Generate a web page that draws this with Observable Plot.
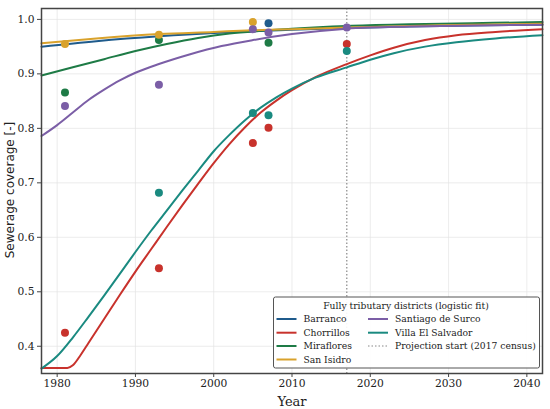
<!DOCTYPE html>
<html>
<head>
<meta charset="utf-8">
<script src="https://cdn.jsdelivr.net/npm/d3@7"></script>
<script src="https://cdn.jsdelivr.net/npm/@observablehq/plot@0.6"></script>
<style>
  html, body { margin: 0; padding: 0; background: #fff; }
  #chart { width: 550px; height: 409px; }
</style>
</head>
<body>
<div id="chart"></div>
<script>
// ---- Data ----
const seriesNames = ["Barranco", "Chorrillos", "Miraflores", "San Isidro", "Santiago de Surco", "Villa El Salvador"];
const seriesColors = ["#1f5b8c", "#c8322c", "#1e7b46", "#d9a22c", "#7b5ea6", "#1a8a80"];

// Logistic-fit curves
const barrancoFitYears = [1978, 1985, 1993, 2000, 2005, 2010, 2017, 2025, 2033, 2042];
const barrancoFit      = [0.950, 0.960, 0.969, 0.975, 0.978, 0.981, 0.984, 0.987, 0.989, 0.990];
const sanIsidroFitYears = [1978, 1985, 1993, 2000, 2005, 2010, 2017, 2025, 2033, 2042];
const sanIsidroFit      = [0.956, 0.965, 0.973, 0.977, 0.980, 0.982, 0.985, 0.988, 0.990, 0.992];
const mirafloresFitYears = [1978, 1982, 1986, 1990, 1994, 1998, 2002, 2006, 2010, 2017, 2025, 2033, 2042];
const mirafloresFit      = [0.897, 0.912, 0.927, 0.942, 0.955, 0.966, 0.974, 0.979, 0.983, 0.988, 0.991, 0.993, 0.995];
const surcoFitYears = [1978, 1980, 1982, 1984, 1986, 1988, 1990, 1993, 1997, 2001, 2005, 2010, 2017, 2025, 2033, 2042];
const surcoFit      = [0.786, 0.806, 0.829, 0.852, 0.871, 0.888, 0.902, 0.918, 0.936, 0.951, 0.962, 0.973, 0.983, 0.987, 0.989, 0.990];
const chorrillosFitYears = [1978, 1981.3, 1982, 1983, 1984, 1985, 1986, 1988, 1990, 1992, 1994, 1996, 1998, 2000, 2002, 2004, 2006, 2008, 2010, 2013, 2017, 2020, 2023, 2027, 2031, 2036, 2042];
const chorrillosFit      = [0.360, 0.360, 0.365, 0.384, 0.406, 0.428, 0.450, 0.494, 0.537, 0.578, 0.619, 0.659, 0.698, 0.736, 0.771, 0.802, 0.829, 0.851, 0.870, 0.894, 0.918, 0.934, 0.948, 0.962, 0.971, 0.977, 0.982];
const vesFitYears = [1978, 1980, 1982, 1984, 1986, 1988, 1990, 1992, 1994, 1996, 1998, 2000, 2002, 2004, 2006, 2008, 2010, 2013, 2017, 2020, 2023, 2027, 2031, 2036, 2042];
const vesFit      = [0.359, 0.382, 0.416, 0.454, 0.493, 0.533, 0.573, 0.612, 0.649, 0.686, 0.722, 0.758, 0.788, 0.815, 0.838, 0.857, 0.873, 0.893, 0.912, 0.926, 0.938, 0.950, 0.958, 0.965, 0.971];

// Observed census points
const barrancoObsYears = [2007];
const barrancoObs      = [0.993];
const chorrillosObsYears = [1981, 1993, 2005, 2007, 2017];
const chorrillosObs      = [0.425, 0.543, 0.773, 0.801, 0.955];
const mirafloresObsYears = [1981, 1993, 2007];
const mirafloresObs      = [0.866, 0.962, 0.957];
const sanIsidroObsYears = [1981, 1993, 2005];
const sanIsidroObs      = [0.955, 0.972, 0.995];
const surcoObsYears = [1981, 1993, 2005, 2007, 2017];
const surcoObs      = [0.841, 0.880, 0.982, 0.976, 0.985];
const vesObsYears = [1993, 2005, 2007, 2017];
const vesObs      = [0.682, 0.828, 0.824, 0.942];

const projectionYear = 2017;
const xTicks = [1980, 1990, 2000, 2010, 2020, 2030, 2040];
const yTicks = [0.4, 0.5, 0.6, 0.7, 0.8, 0.9, 1.0];

// ---- Build tables ----
const fitSets = [
  [barrancoFitYears, barrancoFit],
  [chorrillosFitYears, chorrillosFit],
  [mirafloresFitYears, mirafloresFit],
  [sanIsidroFitYears, sanIsidroFit],
  [surcoFitYears, surcoFit],
  [vesFitYears, vesFit]
];
const obsSets = [
  [barrancoObsYears, barrancoObs],
  [chorrillosObsYears, chorrillosObs],
  [mirafloresObsYears, mirafloresObs],
  [sanIsidroObsYears, sanIsidroObs],
  [surcoObsYears, surcoObs],
  [vesObsYears, vesObs]
];
const fitRows = [];
fitSets.forEach(([ys, vs], i) => ys.forEach((y, j) => fitRows.push({series: seriesNames[i], year: y, value: vs[j]})));
const obsRows = [];
obsSets.forEach(([ys, vs], i) => ys.forEach((y, j) => obsRows.push({series: seriesNames[i], year: y, value: vs[j]})));

const serif = "DejaVu Serif, serif";

const chart = Plot.plot({
  width: 550,
  height: 409,
  marginLeft: 41,
  marginRight: 8,
  marginTop: 8,
  marginBottom: 36,
  style: {fontFamily: serif, fontSize: "10.7px", color: "#222", background: "#fff"},
  x: {domain: [1978, 2042], ticks: xTicks, tickFormat: d => String(d), label: null, tickSize: 4, tickPadding: 3},
  y: {domain: [0.35, 1.02], ticks: yTicks, tickFormat: ".1f", label: null, tickSize: 4, tickPadding: 3},
  color: {domain: seriesNames, range: seriesColors},
  marks: [
    Plot.gridX(xTicks, {stroke: "#e4e4e4", strokeOpacity: 1, strokeWidth: 0.7}),
    Plot.gridY(yTicks, {stroke: "#e4e4e4", strokeOpacity: 1, strokeWidth: 0.7}),
    Plot.ruleX([projectionYear], {stroke: "#888", strokeWidth: 1.2, strokeDasharray: "1.5,2"}),
    Plot.line(fitRows, {x: "year", y: "value", z: "series", stroke: "series", strokeWidth: 2, curve: "monotone-x"}),
    Plot.dot(obsRows, {x: "year", y: "value", fill: "series", r: 4, stroke: "none"}),
    Plot.frame({stroke: "#444", strokeWidth: 1.5}),
    Plot.axisX(xTicks, {tickFormat: d => String(d), tickSize: 4, tickPadding: 2, stroke: "#444"}),
    Plot.axisY(yTicks, {tickFormat: ".1f", tickSize: 4, tickPadding: 3, stroke: "#444"})
  ]
});

document.getElementById("chart").appendChild(chart);

// ---- Axis titles and legend ----
const svg = d3.select(chart);
svg.append("text")
  .attr("transform", "translate(14,190) rotate(-90)")
  .attr("text-anchor", "middle")
  .attr("font-family", "DejaVu Sans, sans-serif")
  .attr("font-size", "12px")
  .attr("fill", "#222")
  .text("Sewerage coverage [-]");
svg.append("text")
  .attr("x", 292).attr("y", 405.5)
  .attr("text-anchor", "middle")
  .attr("font-family", serif)
  .attr("font-size", "13px")
  .attr("fill", "#222")
  .text("Year");

const lg = svg.append("g").attr("font-family", serif).attr("font-size", "9.2px").attr("fill", "#222").attr("text-anchor", "start");
lg.append("rect")
  .attr("x", 273.5).attr("y", 297).attr("width", 266).attr("height", 71)
  .attr("rx", 2).attr("fill", "#fff").attr("fill-opacity", 0.92)
  .attr("stroke", "#555").attr("stroke-width", 1);
lg.append("text").attr("x", 406).attr("y", 308.5).attr("text-anchor", "middle").text("Fully tributary districts (logistic fit)");

const legendItems = [
  {label: seriesNames[0], color: seriesColors[0], col: 0, row: 0},
  {label: seriesNames[1], color: seriesColors[1], col: 0, row: 1},
  {label: seriesNames[2], color: seriesColors[2], col: 0, row: 2},
  {label: seriesNames[3], color: seriesColors[3], col: 0, row: 3},
  {label: seriesNames[4], color: seriesColors[4], col: 1, row: 0},
  {label: seriesNames[5], color: seriesColors[5], col: 1, row: 1},
  {label: "Projection start (2017 census)", color: "#888", col: 1, row: 2, dotted: true}
];
const colX = [276.5, 368];
const rowY = [319, 332.7, 346, 359.5];
legendItems.forEach(it => {
  const x0 = colX[it.col], y0 = rowY[it.row];
  lg.append("line")
    .attr("x1", x0).attr("x2", x0 + 20).attr("y1", y0).attr("y2", y0)
    .attr("stroke", it.color)
    .attr("stroke-width", it.dotted ? 1.2 : 2)
    .attr("stroke-dasharray", it.dotted ? "1.5,2" : null);
  lg.append("text").attr("x", x0 + 27).attr("y", y0 + 3.3).attr("text-anchor", "start").text(it.label);
});
</script>
</body>
</html>
